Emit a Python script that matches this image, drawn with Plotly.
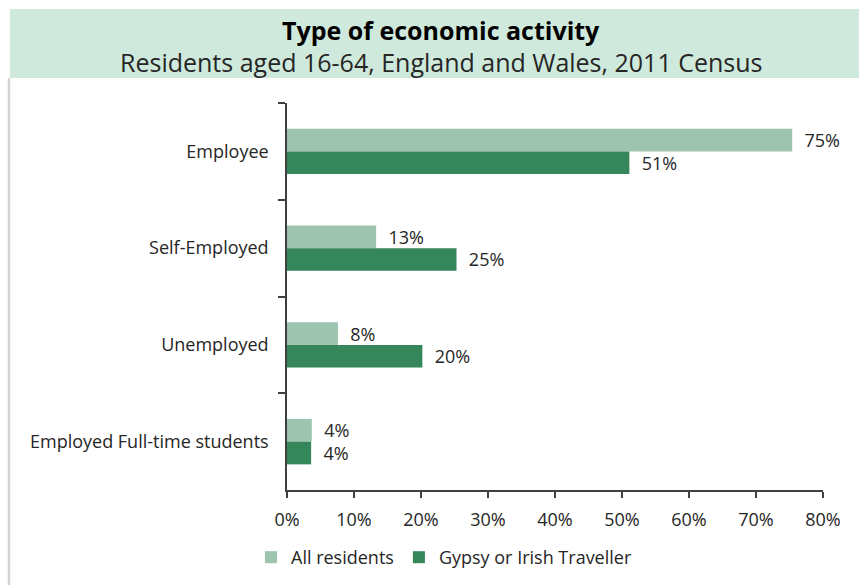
import plotly.graph_objects as go

# Type of economic activity, residents aged 16-64 (England and Wales, 2011 Census)
categories = ["Employee", "Self-Employed", "Unemployed", "Employed Full-time students"]
all_residents = [75.4, 13.3, 7.6, 3.7]
gypsy_traveller = [51.1, 25.3, 20.2, 3.6]
x_ticks = [0, 10, 20, 30, 40, 50, 60, 70, 80]
x_tick_labels = [f"{v}%" for v in x_ticks]

LIGHT = "#9cc4ae"
DARK = "#35865b"
BAND = "#cfeadc"
TEXT = "#262626"
AXIS = "#404040"
FONT = "Open Sans"

W, H = 859, 585
L, R, T, B = 287, 36, 103, 95
pw, ph = W - L - R, H - T - B


def px_x(px):
    return (px - L) / pw


def px_y(py):
    return (H - B - py) / ph


fig = go.Figure()
for name, vals, col in [("All residents", all_residents, LIGHT),
                        ("Gypsy or Irish Traveller", gypsy_traveller, DARK)]:
    fig.add_trace(go.Bar(
        y=categories, x=vals, name=name, orientation="h",
        marker=dict(color=col, line=dict(width=0)),
        texttemplate="  %{x:.0f}%", textposition="outside",
        textfont=dict(size=18, color=TEXT, family=FONT),
        constraintext="none", cliponaxis=False,
        hoverinfo="skip",
    ))

fig.update_layout(
    width=W, height=H,
    margin=dict(l=L, r=R, t=T, b=B, autoexpand=False),
    paper_bgcolor="white", plot_bgcolor="white",
    barmode="group", bargap=0.53, bargroupgap=0,
    font=dict(family=FONT, color=TEXT),
    showlegend=True,
    legend=dict(orientation="h", x=px_x(251), xanchor="left",
                y=px_y(539), yanchor="top",
                font=dict(size=18, color=TEXT, family=FONT),
                itemwidth=30, tracegroupgap=0,
                bgcolor="rgba(0,0,0,0)"),
    xaxis=dict(range=[0, 80], tickvals=x_ticks, ticktext=x_tick_labels,
               showgrid=False, zeroline=False, automargin=False,
               showline=True, linecolor=AXIS, linewidth=1.5,
               ticks="outside", ticklen=6, tickcolor=AXIS, tickwidth=1.5,
               ticklabelstandoff=7,
               tickfont=dict(size=18, color=TEXT, family=FONT)),
    yaxis=dict(autorange="reversed", showgrid=False, zeroline=False,
               automargin=False,
               showline=True, linecolor=AXIS, linewidth=1.5,
               ticks="outside", ticklen=7, tickcolor=AXIS, tickwidth=1.5,
               tickson="boundaries", ticklabelstandoff=13,
               tickfont=dict(size=18, color=TEXT, family=FONT)),
    shapes=[
        dict(type="rect", xref="paper", yref="paper",
             x0=px_x(10), x1=px_x(W), y0=px_y(9), y1=px_y(78),
             fillcolor=BAND, line=dict(width=0), layer="below"),
        dict(type="line", xref="paper", yref="paper",
             x0=px_x(9), x1=px_x(9), y0=px_y(78), y1=px_y(H),
             line=dict(color="#d4d4d4", width=2.5)),
    ],
    annotations=[
        dict(text="<b>Type of economic activity</b>", xref="paper", yref="paper",
             x=px_x(441), y=px_y(30), xanchor="center", yanchor="middle",
             showarrow=False, font=dict(size=25, color="black", family=FONT)),
        dict(text="Residents aged 16-64, England and Wales, 2011 Census",
             xref="paper", yref="paper",
             x=px_x(441), y=px_y(62), xanchor="center", yanchor="middle",
             showarrow=False, font=dict(size=25, color=TEXT, family=FONT)),
    ],
)

fig.write_html("out.html")
